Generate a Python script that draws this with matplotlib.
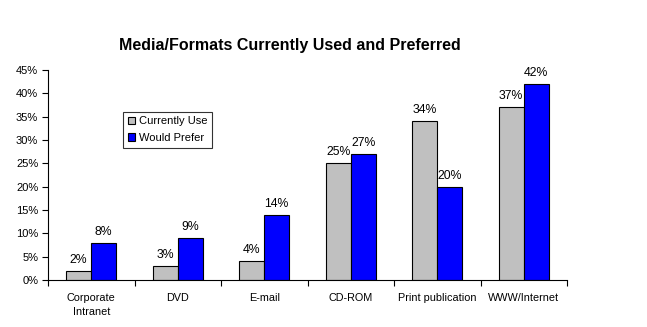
import matplotlib
matplotlib.use("Agg")
from matplotlib import pyplot as plt
import numpy as np

plt.rcParams['font.family'] = ['Liberation Sans', 'DejaVu Sans']

categories = ["Corporate\nIntranet", "DVD", "E-mail", "CD-ROM", "Print publication", "WWW/Internet"]
current = [2, 3, 4, 25, 34, 37]
prefer = [8, 9, 14, 27, 20, 42]

fig = plt.figure(figsize=(6.47, 3.27), dpi=100)
ax = fig.add_axes([0.0742, 0.1437, 0.8022, 0.6422])

x = np.arange(len(categories))
w = 0.29
b1 = ax.bar(x - w / 2, current, w, color="#c0c0c0", edgecolor="black", linewidth=0.8, label="Currently Use")
b2 = ax.bar(x + w / 2, prefer, w, color="#0000ff", edgecolor="black", linewidth=0.8, label="Would Prefer")

# value labels
for rect, v in zip(list(b1) + list(b2), current + prefer):
    ax.text(rect.get_x() + rect.get_width() / 2, v + 1.1, f"{v}%",
            ha="center", va="bottom", fontsize=8.8)

ax.set_xlim(-0.5, len(categories) - 0.5)
ax.set_ylim(0, 45)
ax.set_yticks(range(0, 50, 5))
ax.set_yticklabels([f"{t}%" for t in range(0, 50, 5)], fontsize=8)
ax.set_xticks(np.arange(-0.5, len(categories), 1.0))
ax.set_xticklabels([])
ax.set_xticks(x, minor=True)
ax.set_xticklabels(categories, minor=True, fontsize=7.8, linespacing=1.5)
ax.tick_params(axis="x", which="minor", length=0, pad=9)
ax.tick_params(axis="x", which="major", length=4, direction="out")
ax.tick_params(axis="y", length=4, direction="out", pad=3)
ax.spines["top"].set_visible(False)
ax.spines["right"].set_visible(False)

leg = ax.legend(loc="upper left", bbox_to_anchor=(0.145, 0.8), borderaxespad=0,
                fontsize=8, frameon=True, fancybox=False, edgecolor="black",
                handlelength=0.7, handleheight=0.7, handletextpad=0.3,
                borderpad=0.4, labelspacing=0.6)
leg.get_frame().set_linewidth(0.8)

fig.text(0.448, 0.86, "Media/Formats Currently Used and Preferred",
         ha="center", va="center", fontsize=11.5, fontweight="bold")

plt.savefig("out.png", dpi=100)
